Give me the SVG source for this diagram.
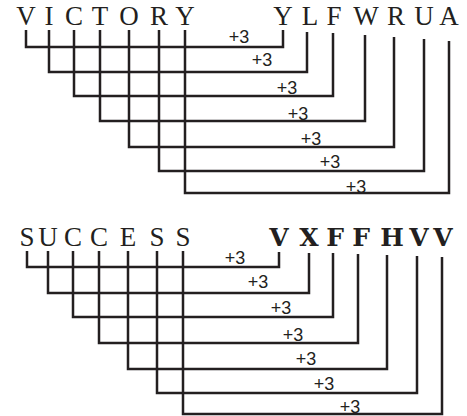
<svg xmlns="http://www.w3.org/2000/svg" width="467" height="416" viewBox="0 0 467 416">
<style>
.w{fill:none;stroke:#231f20;stroke-width:2.5;stroke-linejoin:miter;stroke-linecap:butt}
.n{font-family:'Liberation Sans',Arial,sans-serif;font-size:18px;fill:#231f20;text-anchor:middle}
.s{font-family:'Liberation Serif','Times New Roman',serif;font-size:27px;fill:#231f20;text-anchor:middle}
.sb{font-family:'DejaVu Serif',serif;font-size:25px;font-weight:bold;fill:#231f20;text-anchor:middle}
</style>
<rect width="467" height="416" fill="#fff"/>
<g id="plain1" class="s">
<text x="26" y="25">V</text><text x="49" y="25">I</text><text x="74" y="25">C</text><text x="100" y="25">T</text><text x="129" y="25">O</text><text x="159" y="25">R</text><text x="185" y="25">Y</text>
</g>
<g id="cipher1" class="s">
<text x="283" y="25">Y</text><text x="310" y="25">L</text><text x="334" y="25">F</text><text x="366" y="25">W</text><text x="396" y="25">R</text><text x="424" y="25">U</text><text x="449" y="25">A</text>
</g>
<g id="plain2" class="s">
<text x="27" y="246">S</text><text x="48" y="246">U</text><text x="73" y="246">C</text><text x="99" y="246">C</text><text x="128" y="246">E</text><text x="157" y="246">S</text><text x="183" y="246">S</text>
</g>
<g id="cipher2" class="sb">
<text x="279" y="246">V</text><text x="309" y="246">X</text><text x="335" y="246">F</text><text x="361" y="246">F</text><text x="392" y="246">H</text><text x="419" y="246">V</text><text x="443" y="246">V</text>
</g>
<g id="connectors">
<path class="w" d="M26,30V47H283V30"/>
<path class="w" d="M49,30V72H307V32"/>
<path class="w" d="M74,30V96H333V33"/>
<path class="w" d="M100,30V121H365V35"/>
<path class="w" d="M129,30V147H394V37"/>
<path class="w" d="M159,30V171H424V39"/>
<path class="w" d="M185,30V193H449V41"/>
<path class="w" d="M27,251V267H279V252"/>
<path class="w" d="M48,251V293H309V253"/>
<path class="w" d="M73,251V317H333V253"/>
<path class="w" d="M99,251V343H358V254"/>
<path class="w" d="M128,251V369H387V255"/>
<path class="w" d="M157,251V393H417V256"/>
<path class="w" d="M183,251V414H442V257"/>
</g>
<g id="labels">
<text class="n" x="239" y="43">+3</text>
<text class="n" x="262" y="66">+3</text>
<text class="n" x="287" y="94">+3</text>
<text class="n" x="298" y="120">+3</text>
<text class="n" x="311" y="145">+3</text>
<text class="n" x="330" y="168">+3</text>
<text class="n" x="356" y="193">+3</text>
<text class="n" x="235" y="264">+3</text>
<text class="n" x="258" y="288">+3</text>
<text class="n" x="281" y="314">+3</text>
<text class="n" x="293" y="341">+3</text>
<text class="n" x="306" y="365">+3</text>
<text class="n" x="324" y="390">+3</text>
<text class="n" x="350" y="413">+3</text>
</g>
</svg>
